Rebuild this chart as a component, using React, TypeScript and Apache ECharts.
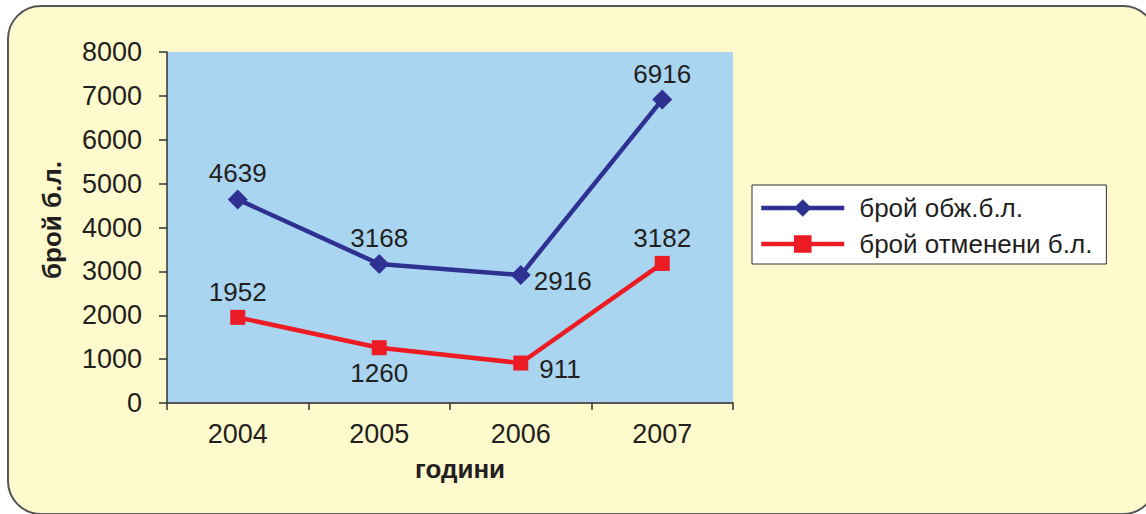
import React, { useEffect, useRef } from "react";
import * as echarts from "echarts";

const years = ["2004", "2005", "2006", "2007"];
const examined = [4639, 3168, 2916, 6916];
const cancelled = [1952, 1260, 911, 3182];
const examinedName = "брой обж.б.л.";
const cancelledName = "брой отменени б.л.";
const examinedLabelPos = ["top", "top", "right", "top"];
const cancelledLabelPos = ["top", "bottom", "right", "top"];

const FONT = "Liberation Sans, Arial, sans-serif";
const TXT = "#231F20";

export default function App() {
  const ref = useRef<HTMLDivElement>(null);
  useEffect(() => {
    if (!ref.current) return;
    const chart = echarts.init(ref.current, null, { renderer: "svg" });
    const lbl = (pos: string[], rightOffset: number[]) => (v: number, i: number) => ({
      value: v,
      label: {
        position: pos[i],
        offset: pos[i] === "right" ? rightOffset : [0, 0],
      },
    });
    chart.setOption({
      animation: false,
      backgroundColor: "transparent",
      textStyle: { fontFamily: FONT },
      grid: {
        left: 167,
        top: 52,
        width: 566,
        height: 351,
        show: true,
        backgroundColor: "#A9D5F0",
        borderWidth: 0,
      },
      legend: {
        left: 752,
        top: 185,
        orient: "vertical",
        backgroundColor: "#FFFFFF",
        borderColor: "#333",
        borderWidth: 1,
        borderRadius: 0,
        padding: [10, 14, 7, 7],
        itemWidth: 83,
        itemHeight: 22,
        itemGap: 10,
        lineStyle: { width: 4.5 },
        textStyle: { fontSize: 26, color: TXT, fontFamily: FONT, padding: [0, 0, 0, 10] },
        data: [examinedName, cancelledName],
      },
      xAxis: {
        type: "category",
        data: years,
        axisLine: { lineStyle: { color: "#555", width: 2 } },
        axisTick: { show: true, length: 7, lineStyle: { color: "#333", width: 1.5 } },
        axisLabel: { fontSize: 27, color: TXT, margin: 17, fontFamily: FONT },
        splitLine: { show: false },
      },
      yAxis: {
        type: "value",
        min: 0,
        max: 8000,
        interval: 1000,
        axisLine: { show: true, lineStyle: { color: "#333", width: 1.5 } },
        axisTick: { show: true, length: 8, lineStyle: { color: "#333", width: 1.5 } },
        axisLabel: { fontSize: 27, color: TXT, margin: 25, fontFamily: FONT, formatter: (v: number) => String(v) },
        splitLine: { show: false },
      },
      graphic: [
        {
          type: "text",
          x: 52,
          y: 220,
          rotation: Math.PI / 2,
          style: {
            text: "брой б.л.",
            font: "bold 26px " + FONT,
            fill: TXT,
            align: "center",
            verticalAlign: "middle",
          },
        },
        {
          type: "text",
          x: 460,
          y: 469,
          style: {
            text: "години",
            font: "bold 26px " + FONT,
            fill: TXT,
            align: "center",
            verticalAlign: "middle",
          },
        },
      ],
      series: [
        {
          name: examinedName,
          type: "line",
          data: examined.map(lbl(examinedLabelPos, [0, 6])),
          symbol: "diamond",
          symbolSize: 20,
          itemStyle: { color: "#2E3192" },
          lineStyle: { color: "#2E3192", width: 4.5 },
          label: { show: true, fontSize: 26, color: TXT, distance: 3, fontFamily: FONT },
        },
        {
          name: cancelledName,
          type: "line",
          data: cancelled.map(lbl(cancelledLabelPos, [6, 6])),
          symbol: "rect",
          symbolSize: 15,
          itemStyle: { color: "#ED1C24" },
          lineStyle: { color: "#ED1C24", width: 4.5 },
          label: { show: true, fontSize: 26, color: TXT, distance: 5, fontFamily: FONT },
        },
      ],
    });
    return () => chart.dispose();
  }, []);
  return (
    <div style={{ position: "fixed", left: 0, top: 0, width: 1146, height: 514, overflow: "hidden", background: "#fff" }}>
      <div
        style={{
          position: "absolute",
          left: 7,
          top: 5,
          width: 1150,
          height: 510,
          boxSizing: "border-box",
          border: "2px solid #555",
          borderRadius: 34,
          background: "#FFFACD",
        }}
      />
      <div ref={ref} style={{ position: "absolute", left: 0, top: 0, width: 1146, height: 514 }} />
    </div>
  );
}
